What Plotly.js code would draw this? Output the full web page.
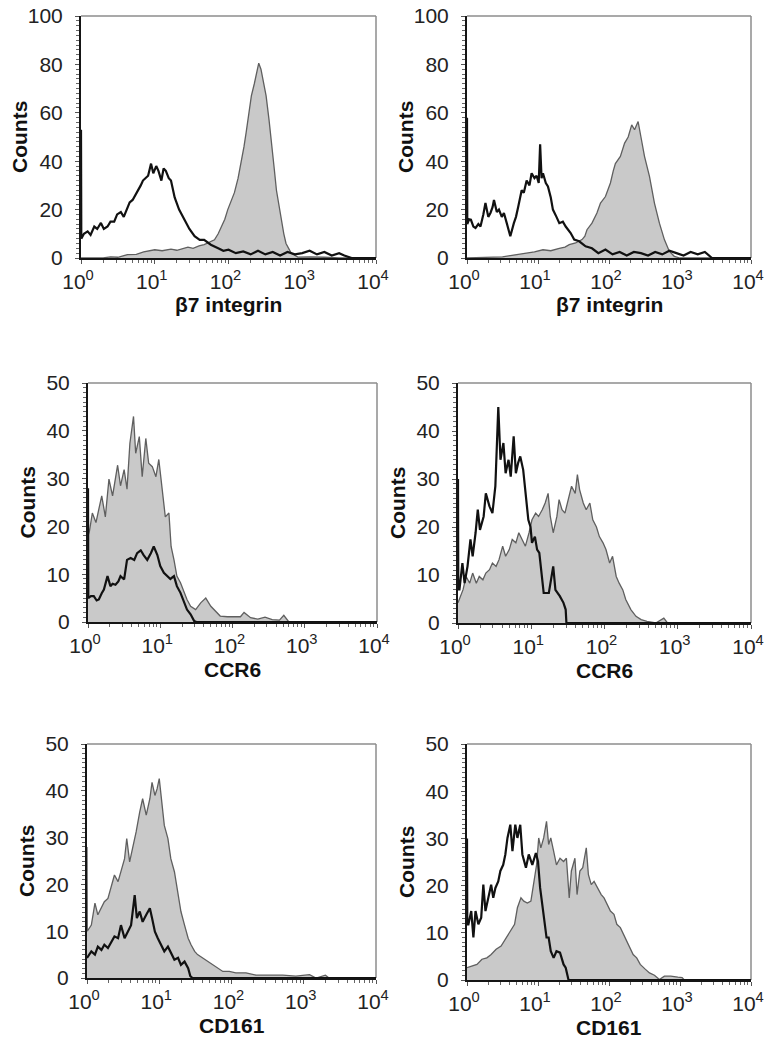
<!DOCTYPE html>
<html>
<head>
<meta charset="utf-8">
<script src="https://cdn.plot.ly/plotly-3.0.1.min.js"></script>
<style>html,body{margin:0;padding:0;background:#fff}#plot{width:765px;height:1043px}</style>
</head>
<body>
<div id="plot"></div>
<script>
// ---- Data: log10 fluorescence channel positions and counts ----
const p1BlackL = [0,0.004,0.04,0.09,0.13,0.18,0.22,0.27,0.31,0.36,0.40,0.45,0.49,0.54,0.58,0.63,0.66,0.70,0.74,0.77,0.81,0.84,0.88,0.91,0.95,0.98,1.02,1.05,1.09,1.12,1.15,1.19,1.22,1.27,1.33,1.40,1.47,1.54,1.61,1.67,1.76,1.86,1.93,2.0,2.1,2.2,2.3,2.4,2.5,2.6,2.7,2.8,2.9,3.0,3.1,3.2,3.3,3.4,3.5,3.57,3.62,3.67,3.75,4.0];
const p1BlackY = [53,8,10,11,9.5,13,12,14.5,12,13,15,15,18,19,17,21,23,24,26,28,30,32,33,34,39,35,38,36,32,37,36,33,32,25,20,16,12,9,7.5,7.5,5.5,4,3,3.4,2,2.7,1.5,3,1.5,2.5,1,2.5,1.5,2,3,1.5,2.5,1,2,1,0.5,0,0,0];
const p1GrayL = [0,0.3,0.4,0.5,0.63,0.75,0.85,1.0,1.1,1.22,1.3,1.38,1.45,1.52,1.6,1.67,1.74,1.81,1.86,1.90,1.95,1.99,2.04,2.08,2.13,2.17,2.21,2.24,2.28,2.31,2.35,2.38,2.41,2.44,2.47,2.51,2.55,2.58,2.62,2.65,2.69,2.72,2.75,2.78,2.82,2.85,2.94,3.1,3.3,3.5,4.0];
const p1GrayY = [0,0,0.5,0.3,1.4,1.5,2.5,3.4,3,3.7,3.2,4,4.5,4,5,5.5,6.5,7.5,10,13,16,20,24,27,33,39,46,52,60,67,72,76,80.5,78,73.6,67,57,47,37,28,20,14,10,6,3.5,2,0.4,0.5,0.3,0,0];

const p2BlackL = [0,0.004,0.03,0.055,0.09,0.12,0.16,0.19,0.23,0.26,0.30,0.33,0.36,0.38,0.42,0.45,0.49,0.52,0.56,0.61,0.66,0.69,0.72,0.77,0.80,0.84,0.88,0.91,0.95,0.98,1.01,1.03,1.05,1.07,1.11,1.14,1.18,1.21,1.26,1.30,1.35,1.39,1.46,1.51,1.58,1.67,1.76,1.85,1.95,2.05,2.15,2.25,2.35,2.45,2.55,2.65,2.75,2.85,2.95,3.05,3.15,3.25,3.35,3.42,3.45,4.0];
const p2BlackY = [58,14,16,15.8,13,12.4,14,13,18,22.7,17,18.6,21,24,19,20,17,18.6,14.4,9,14.4,17,21,28,27,32,30,35,33,34,31,47,33,35,31,29.6,25,20,17,14.4,15,13,10.3,7.6,6.9,4.8,4,2,3.5,1.5,2.5,1,2.5,2,1,2.5,1.5,3,2,1,2.5,1.5,2.5,1,0,0];
const p2GrayL = [0,0.38,0.5,0.61,0.72,0.84,0.95,1.07,1.18,1.30,1.38,1.44,1.53,1.62,1.66,1.69,1.76,1.83,1.88,1.95,2.02,2.06,2.09,2.16,2.22,2.27,2.32,2.36,2.41,2.45,2.50,2.57,2.64,2.71,2.78,2.85,2.92,3.0,4.0];
const p2GrayY = [0,0.3,0.5,1,1.5,2,2.5,3.4,3,4,4.5,5.5,6.2,7.6,9,11.7,14.4,18.6,22.7,25.4,31,36,39,42,47.5,50,55,53,56.4,50,42,33.7,22.7,14.4,7.6,2.7,0.7,0,0];

const p3GrayL = [0,0.02,0.06,0.11,0.15,0.19,0.24,0.29,0.34,0.38,0.41,0.45,0.50,0.54,0.58,0.63,0.66,0.71,0.75,0.80,0.84,0.89,0.94,0.98,1.03,1.07,1.12,1.15,1.19,1.23,1.28,1.33,1.37,1.42,1.49,1.56,1.63,1.70,1.77,1.83,1.93,2.05,2.11,2.16,2.25,2.35,2.45,2.55,2.65,2.71,2.78,4.0];
const p3GrayY = [18,19,22.8,20.8,23.6,26.4,22,29.9,26.4,30,32.8,28.5,31.9,27.8,37.4,43,35.3,38.8,30.4,38.4,33.2,32.5,30.4,34,27,22,22.8,15.8,13,9.6,8.2,6.1,4.7,3.3,2.6,4,5,3.3,2.3,1.25,1.1,1.1,1.1,2,0.9,0.6,1,0.5,0.4,1.4,0,0];
const p3BlackL = [0,0.004,0.04,0.08,0.12,0.15,0.19,0.22,0.27,0.31,0.34,0.38,0.42,0.45,0.50,0.54,0.59,0.64,0.68,0.73,0.77,0.82,0.87,0.91,0.96,1.00,1.05,1.10,1.14,1.19,1.23,1.28,1.33,1.37,1.42,1.47,1.50,4.0];
const p3BlackY = [28,5,5.4,5.4,4.5,4.7,6,6.8,9.6,7.5,8,7.8,8.5,9.6,8.9,13,13.4,13,14.4,15,14,13,14.4,15.8,14,11.7,10.3,9.6,9,9.6,7.5,6.1,4,2.6,1.6,0.2,0,0];

const p4BlackL = [0,0.004,0.02,0.06,0.09,0.13,0.17,0.20,0.24,0.27,0.30,0.35,0.38,0.43,0.47,0.51,0.55,0.58,0.62,0.65,0.69,0.72,0.76,0.79,0.82,0.85,0.89,0.92,0.96,0.99,1.01,1.05,1.08,1.11,1.14,1.17,1.24,1.26,1.30,1.33,1.39,1.44,1.47,1.48,4.0];
const p4BlackY = [30,7,7,12.5,8.3,11.8,17.4,13.9,18.8,23.6,19.4,22.2,27,24.3,22.9,28.5,45,34,37.5,31.2,34,30.5,38.9,31.2,33.3,34.7,31.9,27,21.5,20,16.7,18,15.3,14.6,9.7,6.25,6.25,8.3,11.8,6.9,5.6,4.2,2.8,0,0];
const p4GrayL = [0,0.07,0.11,0.16,0.20,0.25,0.29,0.34,0.38,0.43,0.47,0.52,0.56,0.61,0.65,0.70,0.74,0.79,0.83,0.88,0.92,0.97,1.01,1.06,1.10,1.15,1.19,1.23,1.26,1.30,1.35,1.38,1.42,1.46,1.51,1.55,1.60,1.63,1.66,1.71,1.75,1.80,1.84,1.89,1.93,1.98,2.02,2.07,2.11,2.16,2.20,2.25,2.29,2.36,2.43,2.50,2.58,2.70,2.81,2.86,4.0];
const p4GrayY = [4.2,7,9.7,8.3,10.4,8.3,9.7,9,10.4,11.1,12.5,11.8,13.2,16,13.9,15.3,17.4,16.7,18.8,17.4,16,18.8,21.5,22.9,22.2,23.6,25,27,22.2,18.8,22.2,25.7,23.6,22.9,26.4,28.5,27,30.9,27.8,25,23.6,25,21.5,20,18,16.7,15.3,12.5,13.9,9.7,8.3,6.9,4.9,2.8,1.4,0.7,0.35,0,1,0,0];

const p5GrayL = [0,0.004,0.06,0.11,0.15,0.20,0.24,0.29,0.34,0.38,0.43,0.47,0.52,0.55,0.59,0.64,0.68,0.73,0.77,0.82,0.87,0.90,0.94,0.97,1.00,1.04,1.07,1.12,1.16,1.21,1.26,1.30,1.35,1.40,1.44,1.49,1.53,1.60,1.67,1.74,1.81,1.88,1.97,2.06,2.20,2.34,2.52,2.71,2.89,3.08,3.17,3.30,3.35,4.0];
const p5GrayY = [28,10,11.3,16,13.5,14.9,16.3,17,19.9,22,20.6,22.7,25.5,29.8,24.8,28.4,31.2,35.5,38.3,34.8,38.3,41.8,39,40.4,42.6,36.9,32.6,29.8,25.5,22.7,18.4,14.2,11.3,8.5,7.1,5.7,5,4.3,3.5,2.8,2.1,1.4,1.4,1.1,1.1,0.6,0.6,0.6,0.4,0.7,0,0.6,0,0];
const p5BlackL = [0,0.06,0.11,0.15,0.20,0.24,0.29,0.34,0.38,0.43,0.47,0.52,0.56,0.61,0.66,0.69,0.73,0.77,0.82,0.87,0.90,0.94,0.98,1.03,1.07,1.12,1.16,1.21,1.26,1.30,1.35,1.40,1.43,1.46,4.0];
const p5BlackY = [4.3,5.7,5,6.7,6,7.1,6.4,7.8,8.9,8.5,11.3,8.5,9.9,11.3,17.7,12.8,14.2,12,13.5,14.9,12.8,9.9,8.5,7.1,5.7,6.7,5.3,3.9,4.3,2.8,3.5,2.1,0.4,0,0];

const p6BlackL = [0,0.004,0.02,0.06,0.09,0.12,0.16,0.20,0.23,0.26,0.30,0.34,0.37,0.40,0.44,0.47,0.51,0.54,0.57,0.61,0.64,0.68,0.71,0.75,0.78,0.83,0.87,0.92,0.97,1.00,1.03,1.06,1.09,1.12,1.15,1.18,1.22,1.26,1.31,1.36,1.39,1.43,4.0];
const p6BlackY = [30,11.8,11.8,14.6,9,14.6,11.8,13.2,20.2,14.6,17.4,20.2,17.4,19.5,20.9,23.1,24.4,26.6,30.1,32.9,27.3,32.9,30.1,32.9,26.6,23.8,26.6,24.4,26.9,25.1,19.5,16,11.8,9,9,6.1,4.7,6.1,5.8,3.3,2.6,0,0];
const p6GrayL = [0,0.07,0.14,0.21,0.28,0.34,0.41,0.48,0.55,0.62,0.67,0.71,0.76,0.80,0.85,0.90,0.94,0.98,1.01,1.04,1.08,1.12,1.15,1.18,1.22,1.26,1.31,1.36,1.40,1.44,1.47,1.52,1.55,1.59,1.63,1.68,1.71,1.75,1.79,1.84,1.89,1.93,1.98,2.02,2.07,2.11,2.16,2.21,2.25,2.30,2.34,2.39,2.44,2.51,2.57,2.64,2.71,2.78,2.87,2.97,3.03,3.06,4.0];
const p6GrayY = [2.6,3,3.3,4.4,4.7,5.4,6.5,7.2,9,10.7,11.8,15.3,17.4,16.7,16.3,16.7,20.2,24.4,30.1,28,30.1,33.6,28.7,30.1,27.3,24.4,25.8,25.1,25.8,17.4,23.1,25.8,18.1,23.1,23.8,28,22.3,20.2,20.9,19.5,18.1,17.4,16,14.6,13.9,11.8,11.1,9.6,8.2,6.8,5.4,4.7,3.3,2.3,1.5,1,0.1,0.8,0.8,0.6,0.5,0,0];

const xTickVals = [1, 10, 100, 1000, 10000];
const xTickText = ['10<sup>0</sup>', '10<sup>1</sup>', '10<sup>2</sup>', '10<sup>3</sup>', '10<sup>4</sup>'];
const xTitles = ['β7 integrin', 'β7 integrin', 'CCR6', 'CCR6', 'CD161', 'CD161'];
const yMax = [100, 100, 50, 50, 50, 50];
const yDtick = [20, 20, 10, 10, 10, 10];
const yMinor = [2, 2, 1, 1, 1, 1];

// ---- Layout geometry (pixels) ----
const W = 765, H = 1043;
const boxes = [
  [81, 376, 16, 258],
  [467, 751, 16, 258],
  [88, 377, 383, 622],
  [458, 751, 383, 623],
  [87, 376, 744, 978],
  [467, 751, 744, 980]
];

const panels = [
  {gray: [p1GrayL, p1GrayY], black: [p1BlackL, p1BlackY]},
  {gray: [p2GrayL, p2GrayY], black: [p2BlackL, p2BlackY]},
  {gray: [p3GrayL, p3GrayY], black: [p3BlackL, p3BlackY]},
  {gray: [p4GrayL, p4GrayY], black: [p4BlackL, p4BlackY]},
  {gray: [p5GrayL, p5GrayY], black: [p5BlackL, p5BlackY]},
  {gray: [p6GrayL, p6GrayY], black: [p6BlackL, p6BlackY]}
];

const toX = arr => arr.map(v => Math.pow(10, v));
const minorX = [];
[1, 10, 100, 1000].forEach(d => { for (let k = 2; k <= 9; k++) minorX.push(d * k); });

const font = 'Liberation Sans, Arial, Helvetica, sans-serif';
const tickSize = 21, titleSize = 21;
const traces = [];
const layout = {
  width: W, height: H,
  margin: {l: 0, r: 0, t: 0, b: 0},
  paper_bgcolor: '#fff', plot_bgcolor: '#fff',
  showlegend: false,
  font: {family: font, size: tickSize, color: '#222'},
  shapes: [], annotations: []
};

panels.forEach((p, i) => {
  const n = i === 0 ? '' : String(i + 1);
  const xa = 'x' + n, ya = 'y' + n;
  traces.push({
    x: toX(p.gray[0]), y: p.gray[1], xaxis: xa, yaxis: ya,
    type: 'scatter', mode: 'lines', fill: 'tozeroy', fillcolor: '#c9c9c9',
    line: {color: '#5f5f5f', width: 1.3}, hoverinfo: 'skip'
  });
  traces.push({
    x: toX(p.black[0]), y: p.black[1], xaxis: xa, yaxis: ya,
    type: 'scatter', mode: 'lines',
    line: {color: '#111', width: 2.2}, hoverinfo: 'skip'
  });
  const b = boxes[i];
  layout['xaxis' + n] = {
    type: 'log', range: [0, 4], domain: [b[0] / W, b[1] / W], anchor: ya,
    tickmode: 'array', tickvals: xTickVals, ticktext: xTickText,
    ticks: 'outside', ticklen: 4, tickcolor: '#555', tickwidth: 1,
    minor: {tickmode: 'array', tickvals: minorX, ticks: 'outside', ticklen: 3, tickcolor: '#666', showgrid: false},
    ticklabeloverflow: 'allow', ticklabelshift: -3,
    showline: true, linecolor: '#151515', linewidth: 2,
    showgrid: false, zeroline: false, fixedrange: true,
    tickfont: {family: font, size: tickSize, color: '#222'}
  };
  layout['yaxis' + n] = {
    range: [0, yMax[i]], domain: [1 - b[3] / H, 1 - b[2] / H], anchor: xa,
    tickmode: 'linear', tick0: 0, dtick: yDtick[i],
    ticks: 'outside', ticklen: 4, tickcolor: '#555', tickwidth: 1,
    minor: {dtick: yMinor[i], ticks: 'outside', ticklen: 3, tickcolor: '#666', showgrid: false},
    ticklabelstandoff: 8,
    ticklabeloverflow: 'allow',
    showline: true, linecolor: '#151515', linewidth: 2,
    showgrid: false, zeroline: false, fixedrange: true,
    tickfont: {family: font, size: tickSize, color: '#222'}
  };
  // top and right frame lines
  layout.shapes.push({type: 'line', xref: xa + ' domain', yref: ya + ' domain', x0: 0, x1: 1, y0: 1, y1: 1, line: {color: '#8c8c8c', width: 1.5}, layer: 'below'});
  layout.shapes.push({type: 'line', xref: xa + ' domain', yref: ya + ' domain', x0: 1, x1: 1, y0: 0, y1: 1, line: {color: '#8c8c8c', width: 1.5}, layer: 'below'});
  // axis titles
  layout.annotations.push({
    text: '<b>Counts</b>', xref: xa + ' domain', yref: ya + ' domain', x: 0, y: 0.5,
    xanchor: 'center', yanchor: 'middle', xshift: -61, textangle: -90, showarrow: false,
    font: {family: font, size: titleSize, color: '#111'}
  });
  layout.annotations.push({
    text: '<b>' + xTitles[i] + '</b>', xref: xa + ' domain', yref: ya + ' domain', x: 0.5, y: 0,
    xanchor: 'center', yanchor: 'middle', yshift: -47, showarrow: false,
    font: {family: font, size: titleSize, color: '#111'}
  });
});

Plotly.newPlot('plot', traces, layout, {staticPlot: true, displayModeBar: false});
</script>
</body>
</html>
